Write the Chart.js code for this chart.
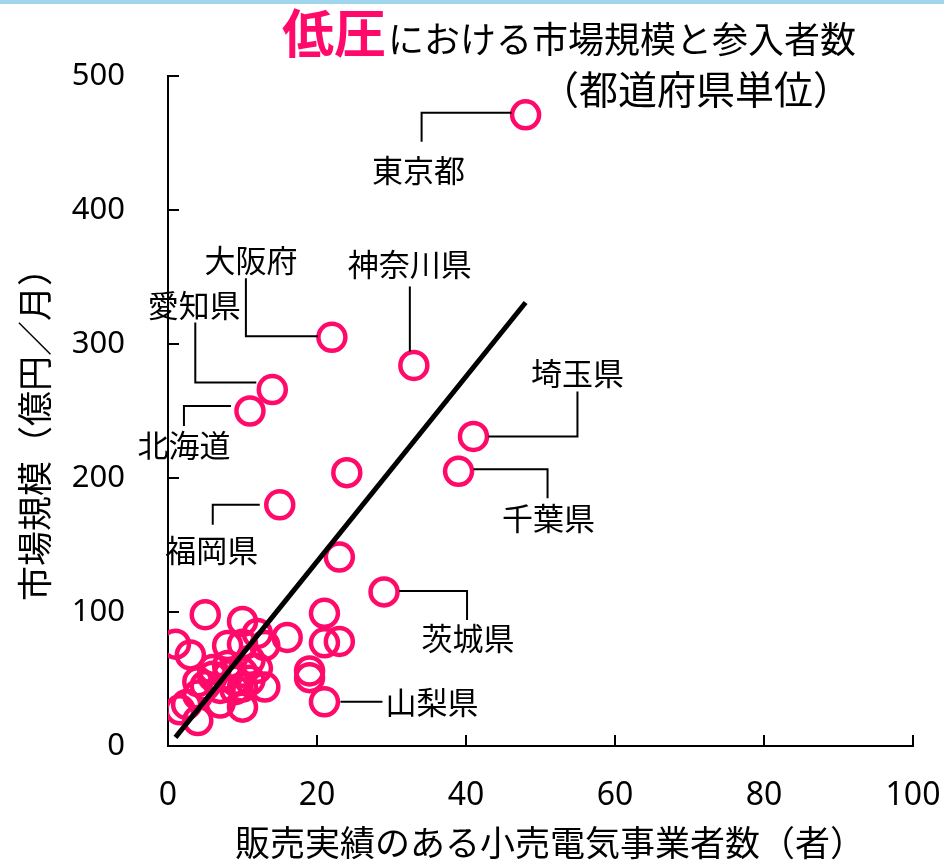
<!DOCTYPE html>
<html>
<head>
<meta charset="utf-8">
<script src="https://cdn.jsdelivr.net/npm/chart.js@4/dist/chart.umd.min.js"></script>
<style>
  html, body { margin: 0; padding: 0; background: #ffffff; }
  #wrap { width: 944px; height: 864px; position: relative; }
  canvas { display: block; }
</style>
</head>
<body>
<div id="wrap"><canvas id="c" width="944" height="864"></canvas></div>
<script>
// ---- text ----
const titleEmphasis = '低圧';
const titleRest = 'における市場規模と参入者数';
const titleSub = '（都道府県単位）';
const xTitle = '販売実績のある小売電気事業者数（者）';
const yTitle = '市場規模（億円／月）';

// ---- data: one entry per prefecture ----
const prefName = [
  '東京都', '神奈川県', '大阪府', '愛知県', '北海道', '埼玉県', '千葉県', '',
  '福岡県', '', '茨城県', '山梨県',
  '', '', '', '', '', '', '', '', '', '', '', '', '', '',
  '', '', '', '', '', '', '', '', '', '', '', '', '', '', '', '', '', '', '', '', ''
];
const sellers = [
  48, 33, 22, 14, 11, 41, 39, 24,
  15, 23, 29, 21,
  21, 21, 23, 19, 19, 16, 1, 3, 5, 10, 12, 8, 10, 13,
  1.6, 2.5, 4, 7, 10, 13, 10, 4, 6, 6, 8, 9, 10, 11, 12, 11, 4, 7, 9, 5, 8
];
const marketSize = [
  471, 284, 305, 266, 250, 231, 205, 204,
  180, 141, 115, 33,
  99, 77, 78, 56, 51, 81, 76, 68, 98, 93, 84, 75, 76, 75,
  27, 31, 19, 32, 29, 44, 44, 48, 57, 52, 60, 42, 55, 64, 58, 49, 38, 43, 49, 45, 53
];

// fitted trend line end points
const trendX = [1, 48];
const trendY = [6.4, 331];

// axis ticks
const xTicks = [0, 20, 40, 60, 80, 100];
const yTicks = [0, 100, 200, 300, 400, 500];

// ---- callout layout: leader path and label offsets in px from the marker ----
const calloutLayout = {
  '東京都':   { path: [[-14, -2], [-104, -2], [-104, 27]], label: [-107, 55], align: 'center' },
  '神奈川県': { path: [[-4, -14], [-4, -79]], label: [-4, -101], align: 'center' },
  '大阪府':   { path: [[-14, -1], [-86, -1], [-86, -59]], label: [-81, -77], align: 'center' },
  '愛知県':   { path: [[-16, -7], [-77, -7], [-77, -67]], label: [-78, -84], align: 'center' },
  '北海道':   { path: [[-19, -5], [-66, -5], [-66, 15]], label: [-66, 34], align: 'center' },
  '福岡県':   { path: [[-20, 0], [-67, 0], [-67, 20]], label: [-68, 45], align: 'center' },
  '埼玉県':   { path: [[15, 0], [104, 0], [104, -45]], label: [104, -63], align: 'center' },
  '千葉県':   { path: [[15, -2], [89, -2], [89, 27]], label: [90, 47], align: 'center' },
  '茨城県':   { path: [[15, -1], [83, -1], [83, 28]], label: [84, 46], align: 'center' },
  '山梨県':   { path: [[16, 0], [58, 0]], label: [61, 0], align: 'left' }
};

const PINK = '#FF0A6A';
const JP = '"Noto Sans CJK JP", "Noto Sans", sans-serif';
const NUM = '"Noto Sans", "Open Sans", sans-serif';

const points = sellers.map((x, i) => ({ x, y: marketSize[i] }));
const trend = trendX.map((x, i) => ({ x, y: trendY[i] }));

// background, inner tick marks, titles and callouts
const decor = {
  id: 'decor',
  beforeDraw(chart) {
    const { ctx, width, height } = chart;
    ctx.save();
    ctx.fillStyle = '#ffffff';
    ctx.fillRect(0, 0, width, height);
    ctx.fillStyle = '#9FD6EB';
    ctx.fillRect(0, 0, width, 4);
    ctx.restore();
  },
  afterDatasetsDraw(chart) {
    const { ctx } = chart;
    const meta = chart.getDatasetMeta(1);
    ctx.save();
    ctx.strokeStyle = '#000';
    ctx.lineWidth = 2;
    ctx.fillStyle = '#000';
    ctx.font = '31px ' + JP;
    ctx.textBaseline = 'middle';
    prefName.forEach((name, i) => {
      const lay = calloutLayout[name];
      if (!name || !lay) return;
      const el = meta.data[i];
      const cx = el.x, cy = el.y;
      ctx.beginPath();
      lay.path.forEach(([dx, dy], k) => {
        if (k === 0) ctx.moveTo(cx + dx, cy + dy);
        else ctx.lineTo(cx + dx, cy + dy);
      });
      ctx.stroke();
      ctx.textAlign = lay.align;
      ctx.fillText(name, cx + lay.label[0], cy + lay.label[1]);
    });
    ctx.restore();
  },
  afterDraw(chart) {
    const { ctx, chartArea, scales } = chart;
    const xs = scales.x, ys = scales.y;
    ctx.save();
    // tick marks pointing into the plot
    ctx.strokeStyle = '#000';
    ctx.lineWidth = 2;
    ctx.beginPath();
    yTicks.forEach(v => {
      const py = Math.round(ys.getPixelForValue(v));
      ctx.moveTo(chartArea.left, py);
      ctx.lineTo(chartArea.left + 11, py);
    });
    xTicks.forEach(v => {
      const px = Math.round(xs.getPixelForValue(v));
      ctx.moveTo(px, chartArea.bottom);
      ctx.lineTo(px, chartArea.bottom - 11);
    });
    ctx.stroke();

    // chart title
    ctx.textBaseline = 'alphabetic';
    ctx.textAlign = 'left';
    ctx.fillStyle = PINK;
    ctx.font = 'bold 52px ' + JP;
    ctx.fillText(titleEmphasis, 282, 53);
    const w = ctx.measureText(titleEmphasis).width;
    ctx.fillStyle = '#000';
    ctx.font = '36px ' + JP;
    ctx.fillText(titleRest, 282 + w + 2, 53);
    ctx.textAlign = 'center';
    ctx.font = '39px ' + JP;
    ctx.fillText(titleSub, 696, 104);

    // axis titles
    ctx.textBaseline = 'middle';
    ctx.font = '35px ' + JP;
    ctx.fillText(xTitle, 550, 843);
    ctx.translate(35, 426);
    ctx.rotate(-Math.PI / 2);
    ctx.fillText(yTitle, 0, 0);
    ctx.restore();
  }
};

new Chart(document.getElementById('c'), {
  type: 'scatter',
  data: {
    datasets: [
      {
        type: 'line',
        data: trend,
        borderColor: '#000',
        borderWidth: 5,
        pointRadius: 0,
        fill: false,
        order: 0
      },
      {
        data: points,
        pointRadius: 13.5,
        pointBorderWidth: 4.5,
        pointBorderColor: PINK,
        pointBackgroundColor: 'rgba(0,0,0,0)',
        borderColor: PINK,
        backgroundColor: 'rgba(0,0,0,0)',
        order: 1
      }
    ]
  },
  options: {
    responsive: false,
    animation: false,
    devicePixelRatio: 1,
    layout: { padding: { top: 76, right: 31, left: 0, bottom: 0 } },
    plugins: { legend: { display: false }, tooltip: { enabled: false }, title: { display: false } },
    scales: {
      x: {
        type: 'linear',
        min: 0, max: 100,
        afterFit(scale) {
          scale.height = 118;
          scale.paddingLeft = 0;
          scale.paddingRight = 0;
        },
        afterBuildTicks(scale) { scale.ticks = xTicks.map(v => ({ value: v })); },
        grid: { display: false, drawTicks: false },
        border: { display: true, color: '#000', width: 2 },
        ticks: { color: '#000', font: { family: NUM, size: 32 }, padding: 31, maxRotation: 0 }
      },
      y: {
        type: 'linear',
        min: 0, max: 500,
        afterFit(scale) {
          scale.width = 168;
          scale.paddingTop = 0;
          scale.paddingBottom = 0;
        },
        afterBuildTicks(scale) { scale.ticks = yTicks.map(v => ({ value: v })); },
        grid: { display: false, drawTicks: false },
        border: { display: true, color: '#000', width: 2 },
        ticks: { color: '#000', font: { family: NUM, size: 31 }, padding: 43 }
      }
    }
  },
  plugins: [decor]
});
</script>
</body>
</html>
